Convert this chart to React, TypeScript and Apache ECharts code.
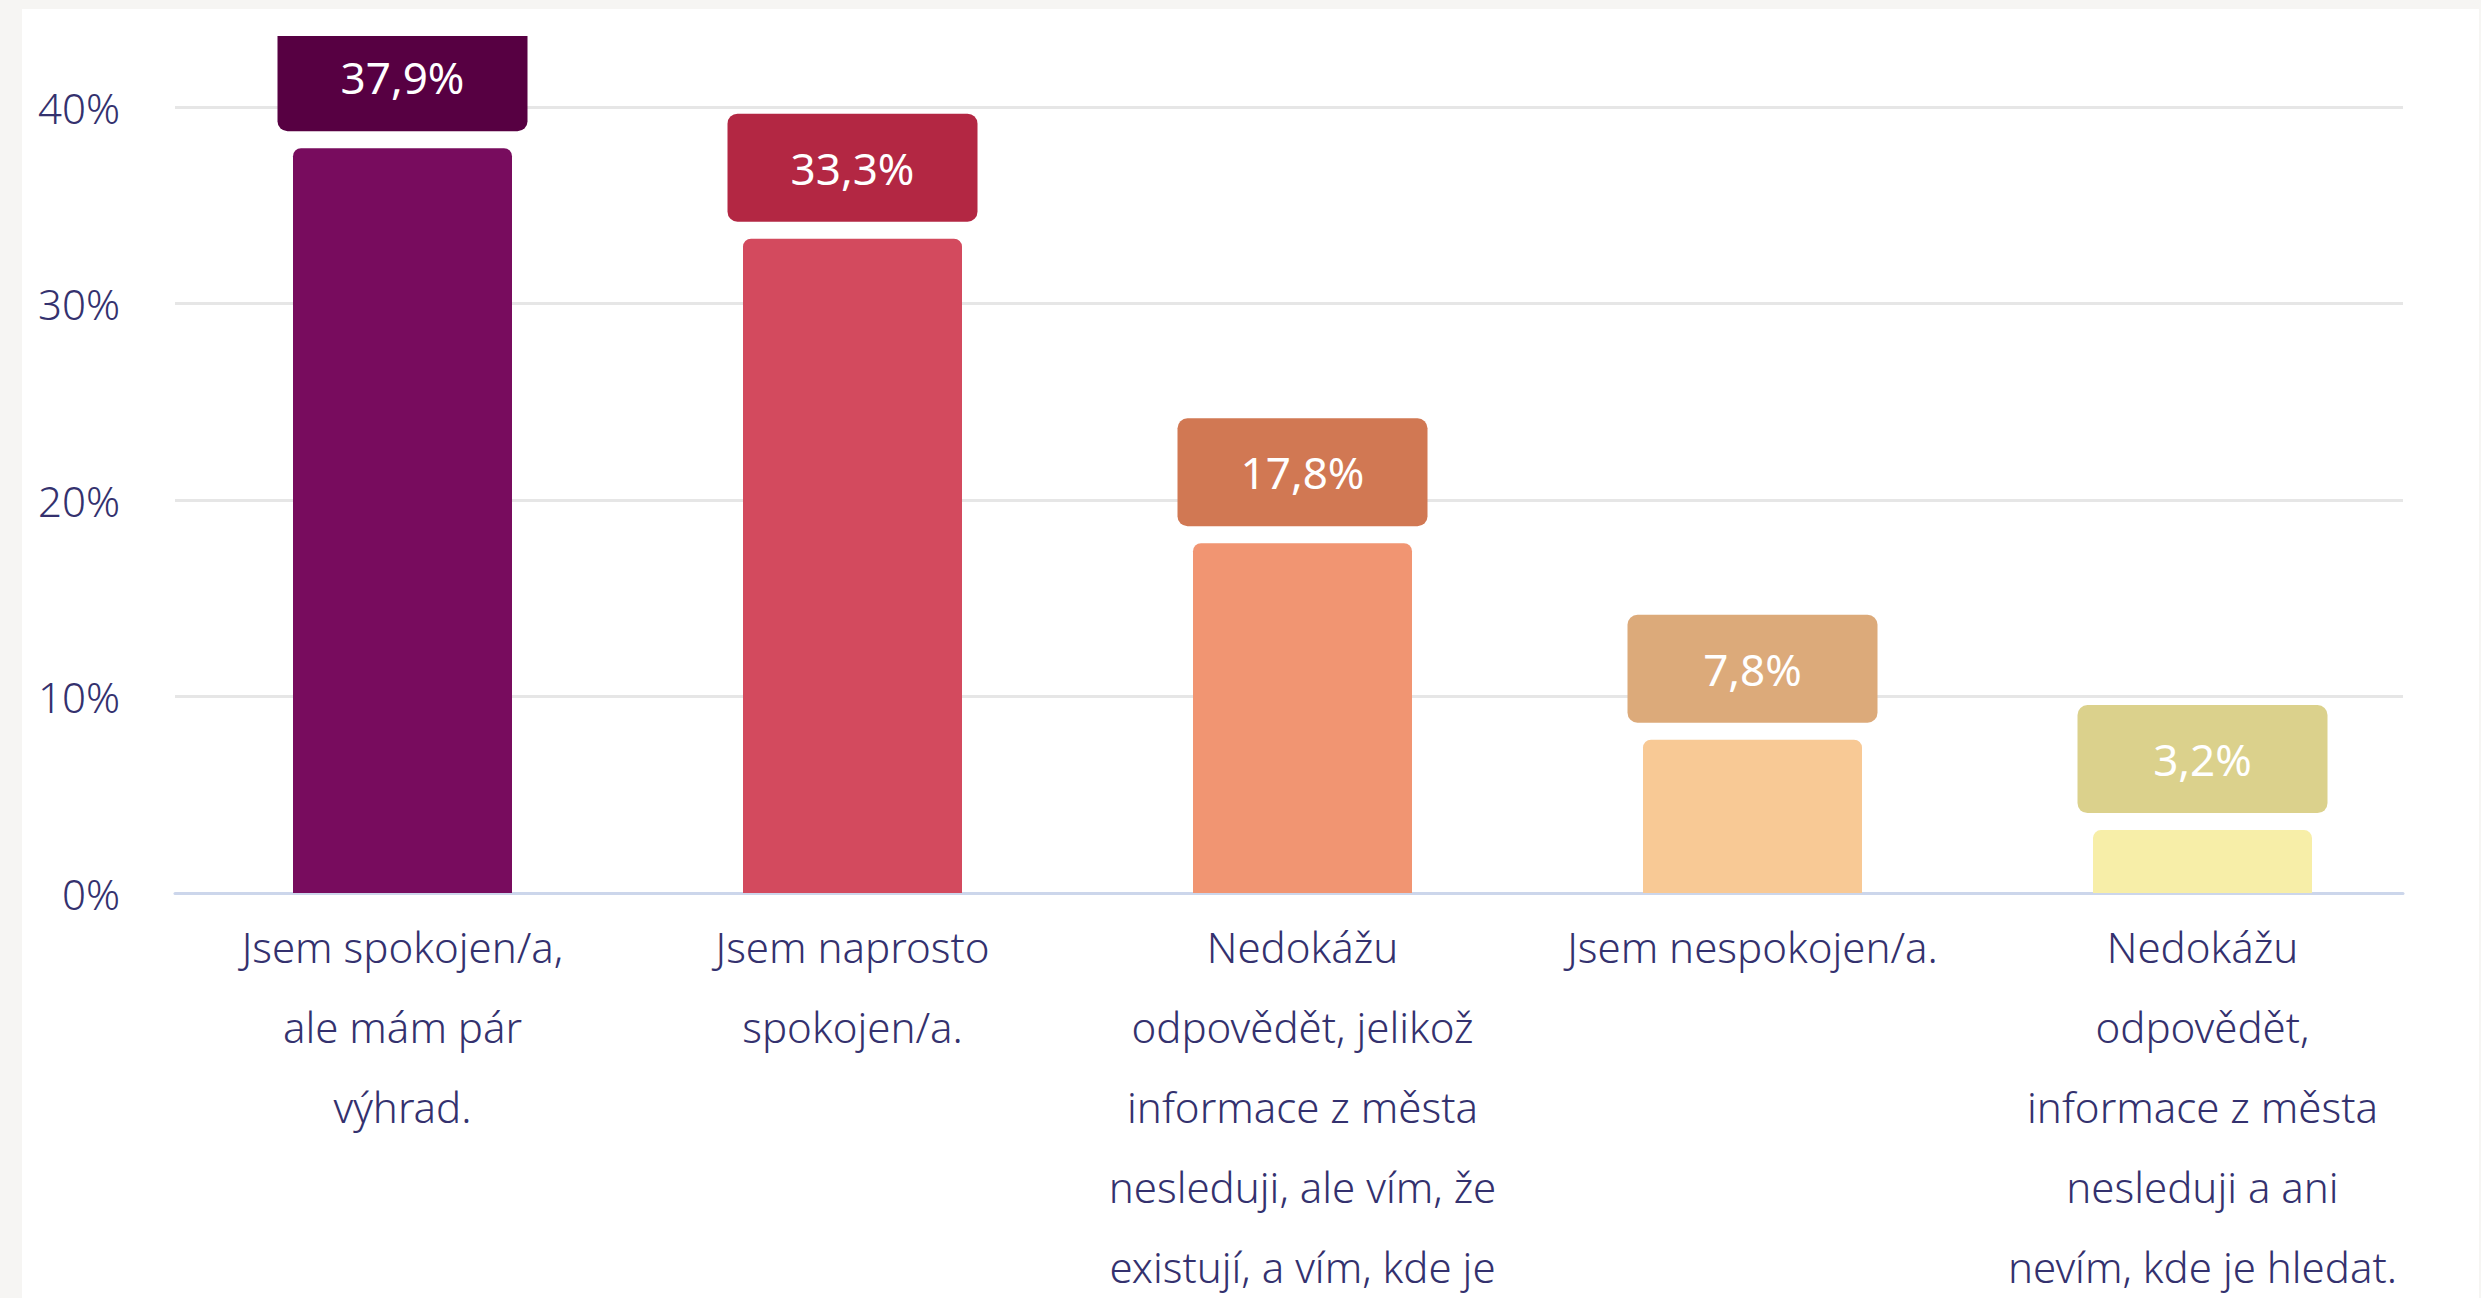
import React, { useEffect, useRef } from "react";
import * as echarts from "echarts";

const categories = [
  "Jsem spokojen/a,\nale mám pár\nvýhrad.",
  "Jsem naprosto\nspokojen/a.",
  "Nedokážu\nodpovědět, jelikož\ninformace z města\nnesleduji, ale vím, že\nexistují, a vím, kde je\nhledat.",
  "Jsem nespokojen/a.",
  "Nedokážu\nodpovědět,\ninformace z města\nnesleduji a ani\nnevím, kde je hledat.",
];
const values = [37.9, 33.3, 17.8, 7.8, 3.2];
const barColors = ["#780c5e", "#d34a5e", "#f19572", "#f8c995", "#f7eea8"];
const labelColors = ["#570042", "#b32743", "#d17853", "#dcaa7a", "#dbd18c"];
const yMin = 0;
const yMax = 40;
const yInterval = 10;

const FONT = "'Noto Sans', sans-serif";
const TEXT_COLOR = "#34316e";

export default function App() {
  const ref = useRef<HTMLDivElement>(null);

  useEffect(() => {
    if (!ref.current) return;
    const chart = echarts.init(ref.current, undefined, { renderer: "svg" });
    const data = values.map((v, i) => ({
      value: v,
      itemStyle: { color: barColors[i], borderRadius: [8, 8, 0, 0] },
      label: { backgroundColor: labelColors[i] },
    }));
    chart.setOption({
      animation: false,
      backgroundColor: "transparent",
      textStyle: { fontFamily: FONT },
      grid: [
        { left: 175, right: 78, top: 107, bottom: 405, outerBoundsMode: "none", containLabel: false },
        { left: 177.5, width: 2250, top: 107, bottom: 405, outerBoundsMode: "none", containLabel: false },
      ],
      xAxis: [
        {
          type: "category",
          gridIndex: 0,
          data: categories,
          axisLine: { show: true, lineStyle: { color: "#ccd6eb", width: 3 } },
          axisTick: { show: false },
          axisLabel: { show: false },
          splitLine: { show: false },
        },
        {
          type: "category",
          gridIndex: 1,
          data: categories,
          axisLine: { show: false },
          axisTick: { show: false },
          axisLabel: {
            interval: 0,
            fontFamily: FONT,
            fontSize: 42,
            fontWeight: 300,
            lineHeight: 80,
            margin: 13,
            color: TEXT_COLOR,
            align: "center",
          },
        },
      ],
      yAxis: [
        {
          type: "value",
          gridIndex: 0,
          min: yMin,
          max: yMax,
          interval: yInterval,
          axisLine: { show: false },
          axisTick: { show: false },
          axisLabel: {
            formatter: "{value}%",
            fontFamily: FONT,
            fontSize: 42,
            fontWeight: 300,
            color: TEXT_COLOR,
            margin: 55,
          },
          splitLine: { lineStyle: { color: "#e6e6e6", width: 3 } },
        },
        {
          type: "value",
          gridIndex: 1,
          min: yMin,
          max: yMax,
          interval: yInterval,
          axisLine: { show: false },
          axisTick: { show: false },
          axisLabel: { show: false },
          splitLine: { show: false },
        },
      ],
      series: [
        {
          type: "bar",
          xAxisIndex: 1,
          yAxisIndex: 1,
          barWidth: 219,
          data,
          label: {
            show: true,
            position: "top",
            distance: 17,
            formatter: (p: any) => String(p.value).replace(".", ",") + "%",
            color: "#ffffff",
            fontFamily: FONT,
            fontSize: 44,
            fontWeight: 400,
            width: 250,
            height: 108,
            lineHeight: 108,
            align: "center",
            borderRadius: 10,
            padding: 0,
          },
        },
      ],
      graphic: [
        {
          type: "rect",
          z: 100,
          shape: { x: 22, y: 9, width: 2457, height: 27 },
          style: { fill: "#ffffff" },
        },
      ],
    });
    return () => chart.dispose();
  }, []);

  return (
    <div
      style={{
        position: "fixed",
        left: 0,
        top: 0,
        width: 2481,
        height: 1298,
        background: "#f6f5f3",
        overflow: "hidden",
      }}
    >
      <div
        style={{
          position: "absolute",
          left: 22,
          top: 9,
          width: 2457,
          height: 1289,
          background: "#ffffff",
        }}
      />
      <div
        ref={ref}
        style={{ position: "absolute", left: 0, top: 0, width: 2481, height: 1298 }}
      />
    </div>
  );
}
